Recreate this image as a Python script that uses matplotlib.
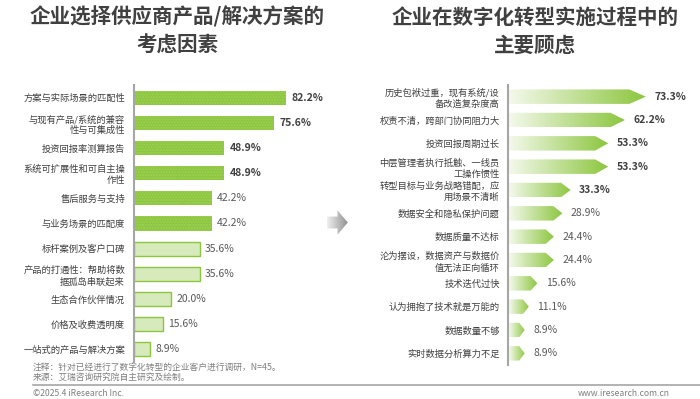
import numpy as np
import matplotlib
matplotlib.use("Agg")
import matplotlib.pyplot as plt
from matplotlib.patches import Polygon
from matplotlib.colors import LinearSegmentedColormap

plt.rcParams["font.family"] = ["Noto Sans CJK SC", "DejaVu Sans"]

left_labels = ["方案与实际场景的匹配性", "与现有产品/系统的兼容\n性与可集成性", "投资回报率测算报告",
               "系统可扩展性和可自主操\n作性", "售后服务与支持", "与业务场景的匹配度",
               "标杆案例及客户口碑", "产品的打通性：帮助将数\n据孤岛串联起来", "生态合作伙伴情况",
               "价格及收费透明度", "一站式的产品与解决方案"]
left_values = [82.2, 75.6, 48.9, 48.9, 42.2, 42.2, 35.6, 35.6, 20.0, 15.6, 8.9]

right_labels = ["历史包袱过重，现有系统/设\n备改造复杂度高", "权责不清，跨部门协同阻力大", "投资回报周期过长",
                "中层管理者执行抵触、一线员\n工操作惯性", "转型目标与业务战略错配，应\n用场景不清晰",
                "数据安全和隐私保护问题", "数据质量不达标", "沦为摆设，数据资产与数据价\n值无法正向循环",
                "技术迭代过快", "认为拥抱了技术就是万能的", "数据数量不够", "实时数据分析算力不足"]
right_values = [73.3, 62.2, 53.3, 53.3, 33.3, 28.9, 24.4, 24.4, 15.6, 11.1, 8.9, 8.9]

W, H = 700, 399
fig = plt.figure(figsize=(7, 3.99), dpi=100)


def px_axes(x0, y0, x1, y1):
    # pixel box (top-left origin) -> figure axes
    return fig.add_axes([x0 / W, 1 - y1 / H, (x1 - x0) / W, (y1 - y0) / H])


TXT = "#404040"

# titles
fig.text(177 / W, 1 - 17 / H, "企业选择供应商产品/解决方案的", ha="center", va="center",
         fontsize=14.8, fontweight="bold", color=TXT)
fig.text(177 / W, 1 - 45 / H, "考虑因素", ha="center", va="center",
         fontsize=14.8, fontweight="bold", color=TXT)
fig.text(535 / W, 1 - 17 / H, "企业在数字化转型实施过程中的", ha="center", va="center",
         fontsize=14.8, fontweight="bold", color=TXT)
fig.text(535 / W, 1 - 45 / H, "主要顾虑", ha="center", va="center",
         fontsize=14.8, fontweight="bold", color=TXT)

# ---- left chart
ax1 = px_axes(134, 85, 134 + 185, 362)
n1 = len(left_values)
y1 = np.arange(n1)
ax1.barh(y1[:6], left_values[:6], height=0.56, color="#8cc63e", hatch="......",
         edgecolor="#9fd25a", linewidth=0)
ax1.barh(y1[6:], left_values[6:], height=0.56, color="#d6eabb", edgecolor="#8cc63e", linewidth=1)
ax1.set_xlim(0, 100)
ax1.set_ylim(n1 - 0.5, -0.5)
for i, v in enumerate(left_values):
    bold = i < 4
    ax1.text(v + 2.8, i, f"{v:.1f}%", va="center", ha="left", fontsize=7.5,
             fontweight="bold" if bold else "normal", color=TXT if bold else "#595959")
ax1.set_yticks(y1)
ax1.set_yticklabels(left_labels, fontsize=6.7, color=TXT, linespacing=1.3, multialignment="right")
ax1.tick_params(axis="y", length=0, pad=6.5)
ax1.set_xticks([])
for s in ["top", "right", "bottom"]:
    ax1.spines[s].set_visible(False)
ax1.spines["left"].set_color("#a6a6a6")
ax1.spines["left"].set_linewidth(1.5)

# ---- right chart (gradient arrow bars)
ax2 = px_axes(508, 85, 508 + 188, 365)
n2 = len(right_values)
cmap = LinearSegmentedColormap.from_list("g", ["#f4f9ec", "#8cc63e"])
grad = np.linspace(0, 1, 256).reshape(1, -1)
px_per = 188 / 100
h = 0.31
for i, v in enumerate(right_values):
    lpx = v * px_per
    tip = (4 + 0.09 * lpx) / px_per
    x0 = 0.3
    poly = Polygon([(x0, i - h), (v - tip, i - h), (v, i), (v - tip, i + h), (x0, i + h)],
                   closed=True, facecolor="none", edgecolor="none")
    ax2.add_patch(poly)
    im = ax2.imshow(grad, cmap=cmap, aspect="auto", extent=(x0, v, i + h, i - h), zorder=2)
    im.set_clip_path(poly)
    bold = i < 5
    ax2.text(v + 4.5, i, f"{v:.1f}%", va="center", ha="left", fontsize=7.5,
             fontweight="bold" if bold else "normal", color=TXT if bold else "#595959")
ax2.set_xlim(0, 100)
ax2.set_ylim(n2 - 0.5, -0.5)
ax2.set_yticks(np.arange(n2))
ax2.set_yticklabels(right_labels, fontsize=6.7, color=TXT, linespacing=1.3, multialignment="right")
ax2.tick_params(axis="y", length=0, pad=6)
ax2.set_xticks([])
for s in ["top", "right", "bottom"]:
    ax2.spines[s].set_visible(False)
ax2.spines["left"].set_color("#a6a6a6")
ax2.spines["left"].set_linewidth(1.5)

# ---- middle gray arrow
axm = px_axes(326, 209, 349, 236)
axm.set_xlim(0, 1)
axm.set_ylim(0, 1)
axm.axis("off")
arrow = Polygon([(0.05, 0.28), (0.5, 0.28), (0.5, 0.05), (0.95, 0.5), (0.5, 0.95), (0.5, 0.72), (0.05, 0.72)],
                closed=True, facecolor="none", edgecolor="none")
axm.add_patch(arrow)
gim = axm.imshow(grad, cmap=LinearSegmentedColormap.from_list("gr", ["#f4f4f4", "#8c8c8c"]),
                 aspect="auto", extent=(0, 1, 0, 1))
gim.set_clip_path(arrow)

# ---- footer
fig.text(33 / W, 1 - 367 / H, "注释：针对已经进行了数字化转型的企业客户进行调研，N=45。", fontsize=6.3,
         color="#7f7f7f", va="center", ha="left")
fig.text(33 / W, 1 - 377 / H, "来源：艾瑞咨询研究院自主研究及绘制。", fontsize=6.3,
         color="#7f7f7f", va="center", ha="left")
fig.add_artist(plt.Line2D([33 / W, 1.0], [1 - 385 / H, 1 - 385 / H], color="#a6a6a6", lw=1.2))
fig.text(33 / W, 1 - 393 / H, "©2025.4 iResearch Inc.", fontsize=6.2, color="#7f7f7f",
         va="center", ha="left")
fig.text(670 / W, 1 - 393 / H, "www.iresearch.com.cn", fontsize=6.2, color="#7f7f7f",
         va="center", ha="right")

fig.savefig("out.png", dpi=100)
